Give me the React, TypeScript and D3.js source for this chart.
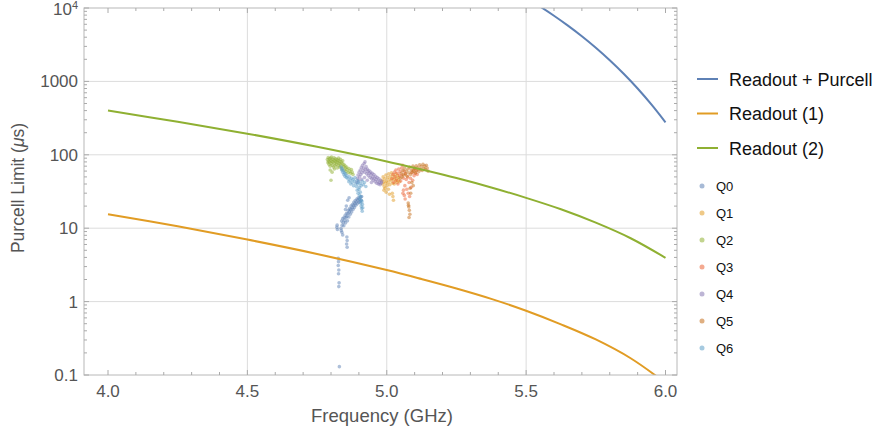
import React from "react";
import * as d3 from "d3";

const W = 879, H = 433;
const PL = 84, PR = 677, PT = 8, PB = 375;

const xTicks = [4.0, 4.5, 5.0, 5.5, 6.0];
const xGrid = [4.5, 5.0, 5.5];
const yTicks = [0.1, 1, 10, 100, 1000, 10000];
const yTickLabels = ["0.1", "1", "10", "100", "1000", "10^4"];
const yGrid = [1, 10, 100, 1000];

// Lines: [frequency GHz, Purcell limit µs]
const readoutPurcell: [number, number][] = [
  [5.50, 13650], [5.55, 10470], [5.60, 7850], [5.65, 5750], [5.70, 4120], [5.75, 2870], [5.80, 1940], [5.85, 1270], [5.90, 800], [5.95, 482], [6.0, 277],
];
const readout1: [number, number][] = [
  [4.0, 15.5], [4.25, 10.6], [4.5, 7.0], [4.75, 4.46], [5.0, 2.69], [5.125, 2.03], [5.25, 1.51], [5.375, 1.09], [5.5, 0.75], [5.625, 0.49], [5.75, 0.305], [5.875, 0.169], [6.0, 0.078],
];
const readout2: [number, number][] = [
  [4.0, 400], [4.25, 282], [4.5, 194], [4.75, 128.5], [5.0, 81.3], [5.125, 63.0], [5.25, 48.2], [5.375, 35.9], [5.5, 25.9], [5.625, 18.1], [5.75, 11.9], [5.875, 7.3], [6.0, 3.95],
];

const lineSeries = ["Readout + Purcell", "Readout (1)", "Readout (2)"];
const lineColors = ["#5E81B5", "#E19C24", "#8FB032"];

const pointSeries = ["Q0", "Q1", "Q2", "Q3", "Q4", "Q5", "Q6"];
const pointColors = ["#5E81B5", "#E19C24", "#8FB032", "#EB6235", "#8778B3", "#C56E1A", "#5D9EC7"];

const q0: [number, number][] = [
  [4.838, 12.5], [4.840, 11], [4.842, 13.5], [4.844, 12], [4.846, 10.8], [4.847, 14], [4.849, 12.8], [4.851, 15], [4.852, 11.8], [4.854, 13.9], [4.856, 16], [4.857, 14.5], [4.859, 12.6], [4.861, 15.8], [4.862, 17.5], [4.864, 14.2], [4.866, 16.8], [4.867, 18.5], [4.869, 15.5], [4.871, 17.9], [4.872, 20], [4.874, 16.6], [4.876, 19], [4.877, 21], [4.879, 18], [4.881, 20.3], [4.882, 22.5], [4.884, 19.2], [4.886, 21.6], [4.887, 23.8], [4.889, 20.5], [4.891, 22.8], [4.893, 25], [4.894, 21.5], [4.896, 24], [4.898, 26], [4.900, 22.5], [4.902, 25], [4.904, 23], [4.906, 26.5], [4.908, 24], [4.910, 27],
  [4.855, 20], [4.860, 24], [4.865, 26], [4.852, 18],
  [4.822, 11], [4.823, 9.6], [4.821, 10.3], [4.836, 10], [4.839, 8.8], [4.842, 8.1], [4.837, 9.3], [4.857, 7.6], [4.858, 6.8], [4.856, 6.1], [4.858, 5.5],
  [4.826, 3.9], [4.827, 3.5], [4.826, 3.1], [4.828, 2.7], [4.827, 2.4], [4.829, 1.8], [4.828, 1.6], [4.830, 0.13],
];
const q1: [number, number][] = [
  [4.983, 45], [4.985, 40], [4.987, 50], [4.989, 43], [4.991, 37], [4.993, 47], [4.995, 41], [4.997, 53], [4.999, 44], [5.001, 38], [5.003, 49], [5.005, 42], [5.007, 55], [5.009, 46], [5.011, 39], [5.013, 51], [5.015, 44], [5.017, 57], [5.019, 48], [5.021, 41], [5.023, 53], [5.025, 46], [5.027, 40], [5.029, 50], [5.031, 44], [5.033, 55], [5.035, 47], [5.037, 42], [5.039, 52], [5.041, 45], [5.043, 49], [5.046, 43],
  [4.990, 33], [4.998, 31], [5.006, 34], [5.010, 29], [5.020, 30], [5.022, 27], [5.024, 24], [4.994, 35],
];
const q2: [number, number][] = [
  [4.787, 86], [4.789, 78], [4.790, 92], [4.791, 82], [4.793, 74], [4.794, 88], [4.795, 80], [4.797, 70], [4.798, 90], [4.799, 84], [4.801, 76], [4.802, 93], [4.803, 81], [4.805, 72], [4.806, 87], [4.807, 79], [4.809, 68], [4.810, 85], [4.811, 91], [4.813, 77], [4.814, 83], [4.815, 71], [4.817, 88], [4.818, 80], [4.819, 74], [4.821, 86], [4.822, 66], [4.823, 79], [4.825, 84], [4.826, 72], [4.827, 90], [4.829, 77], [4.830, 68], [4.831, 82], [4.833, 75], [4.834, 87], [4.836, 70], [4.837, 80], [4.839, 64], [4.840, 76], [4.842, 83], [4.844, 69], [4.846, 74], [4.848, 62], [4.850, 71], [4.852, 66], [4.854, 59], [4.856, 68], [4.858, 63], [4.861, 57], [4.864, 65], [4.867, 60], [4.870, 56], [4.873, 63], [4.876, 58], [4.879, 54],
  [4.800, 45], [4.797, 62], [4.804, 58], [4.812, 64],
];
const q3: [number, number][] = [
  [5.019, 47], [5.022, 54], [5.025, 42], [5.028, 58], [5.030, 50], [5.033, 62], [5.035, 45], [5.038, 56], [5.040, 40], [5.043, 64], [5.045, 52], [5.048, 59], [5.050, 44], [5.053, 66], [5.055, 53], [5.057, 72], [5.060, 48], [5.062, 60], [5.065, 38], [5.067, 55], [5.070, 46], [5.072, 34], [5.075, 50], [5.077, 30], [5.080, 42], [5.082, 27], [5.085, 48], [5.087, 36], [5.090, 57], [5.093, 45], [5.095, 62], [5.098, 52], [5.100, 66], [5.103, 56], [5.106, 61], [5.109, 54],
  [5.060, 33], [5.063, 28], [5.066, 25], [5.058, 30],
];
const q4: [number, number][] = [
  [4.893, 42], [4.895, 48], [4.897, 53], [4.899, 45], [4.901, 58], [4.903, 50], [4.905, 62], [4.907, 54], [4.909, 67], [4.911, 57], [4.913, 72], [4.915, 61], [4.917, 66], [4.919, 76], [4.921, 58], [4.922, 80], [4.924, 63], [4.926, 69], [4.928, 55], [4.930, 64], [4.932, 59], [4.934, 52], [4.936, 61], [4.938, 56], [4.940, 49], [4.942, 58], [4.944, 53], [4.946, 47], [4.948, 56], [4.950, 50], [4.952, 45], [4.954, 54], [4.956, 48], [4.958, 43], [4.960, 51], [4.962, 46], [4.964, 41], [4.966, 49], [4.968, 44], [4.970, 40], [4.972, 47], [4.974, 42], [4.976, 39], [4.978, 45], [4.980, 41], [4.982, 43],
  [4.910, 46], [4.920, 49], [4.930, 45], [4.945, 42],
];
const q5: [number, number][] = [
  [5.048, 48], [5.052, 56], [5.055, 50], [5.058, 61], [5.061, 53], [5.064, 66], [5.067, 55], [5.070, 60], [5.073, 51], [5.076, 64], [5.079, 57], [5.082, 68], [5.085, 54], [5.088, 62], [5.091, 58], [5.094, 70], [5.097, 60], [5.100, 65], [5.103, 57], [5.106, 71], [5.109, 62], [5.112, 67], [5.115, 59], [5.118, 73], [5.121, 63], [5.124, 69], [5.127, 61], [5.130, 74], [5.133, 65], [5.136, 70], [5.139, 63], [5.142, 72], [5.145, 66], [5.148, 60],
  [5.090, 42], [5.095, 38], [5.077, 22], [5.079, 19.5], [5.081, 17.5], [5.083, 15.5], [5.080, 14], [5.078, 20.5], [5.086, 30], [5.084, 35],
];
const q6: [number, number][] = [
  [4.836, 68], [4.838, 62], [4.840, 65], [4.842, 58], [4.844, 61], [4.846, 54], [4.848, 57], [4.850, 51], [4.852, 55], [4.855, 49], [4.857, 52],
  [4.861, 47], [4.864, 43], [4.866, 50], [4.869, 45], [4.871, 40], [4.874, 48], [4.876, 42], [4.879, 46], [4.881, 38], [4.884, 44], [4.886, 49], [4.889, 41], [4.891, 37], [4.894, 45], [4.896, 40], [4.899, 43], [4.902, 36], [4.905, 41], [4.908, 38], [4.912, 44], [4.916, 39], [4.920, 42], [4.925, 37],
  [4.894, 33], [4.897, 30], [4.900, 34], [4.902, 28], [4.905, 31], [4.903, 25], [4.907, 27], [4.906, 22], [4.909, 24], [4.908, 20], [4.911, 23], [4.910, 18.5], [4.913, 21], [4.912, 17], [4.914, 19],
];

const FONT = "'Liberation Sans', Arial, Helvetica, sans-serif";

export default function App() {
  const x = d3.scaleLinear().domain([4.0, 6.0]).range([108, 665.5]);
  const y = d3.scaleLog().domain([0.1, 10000]).range([375, 8]);

  const line = d3
    .line<[number, number]>()
    .x((d) => x(d[0]))
    .y((d) => y(d[1]))
    .curve(d3.curveCatmullRom.alpha(0.5));

  const lines = [readoutPurcell, readout1, readout2];
  const points = [q0, q1, q2, q3, q4, q5, q6];

  const xMinor = d3
    .range(39, 61)
    .map((v) => v / 10)
    .filter((v) => x(v) >= PL && x(v) <= PR && Math.abs(v * 2 - Math.round(v * 2)) > 1e-6);
  const yMinor: number[] = [];
  [0.1, 1, 10, 100, 1000].forEach((b) => {
    for (let k = 2; k <= 9; k++) yMinor.push(b * k);
  });

  const tickColor = "#aaa";
  const labelColor = "#555";

  return (
    <svg width={W} height={H} style={{ display: "block", position: "absolute", left: 0, top: 0 }} fontFamily={FONT}>
      <defs>
        <clipPath id="plotclip">
          <rect x={PL} y={PT} width={PR - PL} height={PB - PT} />
        </clipPath>
      </defs>
      <rect width={W} height={H} fill="#fff" />
      {xGrid.map((v) => (
        <line key={"xg" + v} x1={x(v)} x2={x(v)} y1={PT} y2={PB} stroke="#dcdcdc" strokeWidth={1} />
      ))}
      {yGrid.map((v) => (
        <line key={"yg" + v} x1={PL} x2={PR} y1={y(v)} y2={y(v)} stroke="#dcdcdc" strokeWidth={1} />
      ))}
      <g clipPath="url(#plotclip)">
        {points.map((pts, i) =>
          pts.map((p, j) => (
            <circle key={"p" + i + "_" + j} cx={x(p[0])} cy={y(p[1])} r={1.8} fill={pointColors[i]} fillOpacity={0.5} />
          ))
        )}
        {lines.map((ld, i) => (
          <path key={"l" + i} d={line(ld) || ""} fill="none" stroke={lineColors[i]} strokeWidth={2} />
        ))}
      </g>
      <rect x={PL} y={PT} width={PR - PL} height={PB - PT} fill="none" stroke="#b8b8b8" strokeWidth={1} />
      {xTicks.map((v) => (
        <g key={"xt" + v}>
          <line x1={x(v)} x2={x(v)} y1={PB} y2={PB - 5} stroke={tickColor} />
          <line x1={x(v)} x2={x(v)} y1={PT} y2={PT + 5} stroke={tickColor} />
          <text x={x(v)} y={397} textAnchor="middle" fontSize={17} fill={labelColor}>
            {v.toFixed(1)}
          </text>
        </g>
      ))}
      {xMinor.map((v) => (
        <g key={"xm" + v}>
          <line x1={x(v)} x2={x(v)} y1={PB} y2={PB - 3} stroke={tickColor} />
          <line x1={x(v)} x2={x(v)} y1={PT} y2={PT + 3} stroke={tickColor} />
        </g>
      ))}
      {yTicks.map((v, i) => (
        <g key={"yt" + v}>
          <line x1={PL} x2={PL + 5} y1={y(v)} y2={y(v)} stroke={tickColor} />
          <line x1={PR} x2={PR - 5} y1={y(v)} y2={y(v)} stroke={tickColor} />
          {yTickLabels[i] === "10^4" ? (
            <text x={78} y={y(v) + 7} textAnchor="end" fontSize={17} fill={labelColor}>
              10<tspan dy={-6} fontSize={11}>4</tspan>
            </text>
          ) : (
            <text x={78} y={y(v) + 6} textAnchor="end" fontSize={17} fill={labelColor}>
              {yTickLabels[i]}
            </text>
          )}
        </g>
      ))}
      {yMinor.map((v) => (
        <g key={"ym" + v}>
          <line x1={PL} x2={PL + 3} y1={y(v)} y2={y(v)} stroke={tickColor} />
          <line x1={PR} x2={PR - 3} y1={y(v)} y2={y(v)} stroke={tickColor} />
        </g>
      ))}
      <text x={382} y={422} textAnchor="middle" fontSize={18.5} fill={labelColor}>
        Frequency (GHz)
      </text>
      <text transform="translate(24,188) rotate(-90)" textAnchor="middle" fontSize={17.5} fill={labelColor}>
        Purcell Limit (<tspan fontStyle="italic">μ</tspan>s)
      </text>
      {lineSeries.map((s, i) => (
        <g key={"ll" + i}>
          <line x1={697} x2={718} y1={79 + i * 34.5} y2={79 + i * 34.5} stroke={lineColors[i]} strokeWidth={2} />
          <text x={729} y={79 + i * 34.5 + 6.5} fontSize={18} fill="#111">
            {s}
          </text>
        </g>
      ))}
      {pointSeries.map((s, i) => (
        <g key={"lp" + i}>
          <circle cx={702} cy={186 + i * 27} r={2.5} fill={pointColors[i]} fillOpacity={0.55} />
          <text x={716} y={186 + i * 27 + 4.5} fontSize={13} fill="#111">
            {s}
          </text>
        </g>
      ))}
    </svg>
  );
}
